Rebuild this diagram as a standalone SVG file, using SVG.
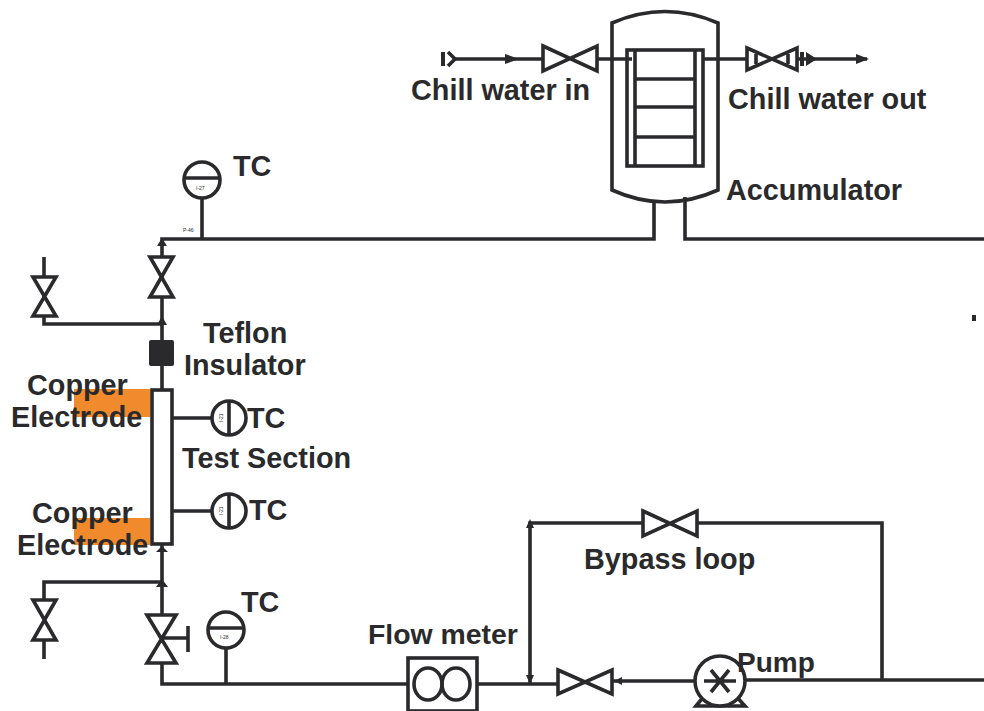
<svg xmlns="http://www.w3.org/2000/svg" width="984" height="711" viewBox="0 0 984 711">
<style>
.l{fill:none;stroke:#2a2a2c;stroke-width:3.6;stroke-linejoin:miter}
.t{fill:#2a2a2c;stroke:none}
.v{fill:#fff;stroke:#2a2a2c;stroke-width:3.6;stroke-linejoin:miter}
text{font-family:"Liberation Sans",Arial,sans-serif;font-weight:700;fill:#2a2a2c;font-size:28.8px}
.s{font-size:5px;font-weight:400}
</style>
<rect width="984" height="711" fill="#fff"/>
<g id="electrodes">
<rect x="74" y="389" width="76" height="28" fill="#f08a2c"/>
<rect x="74" y="518" width="76" height="27" fill="#f08a2c"/>
</g>
<g id="connectors">
<path class="l" d="M453 59H545M595 59H632M703 59H867"/>
<path class="l" d="M654 202V239H162V390"/>
<path class="l" d="M685 197V239H984"/>
<path class="l" d="M44 257V316V324H162"/>
<path class="l" d="M202 198V239"/>
<path class="l" d="M172 418H212M172 511H212"/>
<path class="l" d="M162 544V684H408"/>
<path class="l" d="M44 640V659M44 600V582H162"/>
<path class="l" d="M226 648V684"/>
<path class="l" d="M477 684H558M612 681H695M745 680H984"/>
<path class="l" d="M530 684V523H645M695 523H882V680"/>
<path class="t" d="M505 54L519 59L505 64Z"/>
<path class="t" d="M856 54L869 59L856 64Z"/>
<path class="t" d="M162 238L167 246H157Z"/>
<path class="t" d="M162 316L167 325H157Z"/>
<path class="t" d="M162 546L168 552H156Z"/>
<path class="t" d="M162 579L168 587H156Z"/>
<path class="t" d="M530 519L534 528H526Z"/>
<path class="t" d="M530 684L526 675H534Z"/>
<path class="t" d="M614 681L622 677V685Z"/>
</g>
<g id="inlet-cap">
<rect class="t" x="441" y="52" width="4" height="14"/>
<path class="l" d="M448 52L455 59L448 66"/>
</g>
<g id="accumulator">
<path class="l" d="M612 23Q665 0 718 23V190Q665 214 612 190Z"/>
<rect class="l" x="627" y="50" width="76" height="116"/>
<path class="l" d="M635 50V166M695 50V166M635 79H695M635 107H695M635 137H695"/>
</g>
<g id="valve-in"><path class="v" d="M543 46L597 71V46L543 71Z"/></g>
<g id="valve-out"><path class="v" d="M747 48L797 70V48L747 70Z"/>
<path class="l" d="M756 54V64M788 54V64"/>
<path class="t" d="M800 52H804V66H800ZM806 52L817 59L806 66Z"/></g>
<g id="valve-top"><path class="v" d="M150 257H173L150 297H173Z"/></g>
<g id="valve-upper-left"><path class="v" d="M33 277H56L33 316H56Z"/></g>
<g id="insulator"><rect class="t" x="149" y="340" width="25" height="26" rx="2"/></g>
<g id="test-section"><rect class="v" x="152" y="390" width="20" height="154"/></g>
<g id="valve-lower-left"><path class="v" d="M33 600H56L33 640H56Z"/></g>
<g id="valve-handled"><path class="v" d="M147 615H176L147 663H176Z"/>
<path class="l" d="M162 638H187M188 626V652"/></g>
<g id="tc-top"><circle class="v" cx="202" cy="180" r="18"/><path class="l" d="M184 178H220"/><text class="s" x="196" y="190">I-27</text></g>
<text class="s" x="183" y="232">P-46</text>
<g id="tc-upper"><circle class="v" cx="229" cy="418" r="17"/><path class="l" d="M229 401V435"/><text class="s" transform="translate(223 422) rotate(-90)">I-21</text></g>
<g id="tc-lower"><circle class="v" cx="229" cy="511" r="17"/><path class="l" d="M229 494V528"/><text class="s" transform="translate(223 515) rotate(-90)">I-21</text></g>
<g id="tc-bottom"><circle class="v" cx="226" cy="630" r="18"/><path class="l" d="M208 628H244"/><text class="s" x="220" y="639">I-28</text></g>
<g id="flow-meter"><rect class="v" x="408" y="658" width="69" height="53"/><ellipse class="l" cx="428" cy="684" rx="14" ry="16"/><ellipse class="l" cx="456" cy="684" rx="14" ry="16"/></g>
<g id="valve-bypass"><path class="v" d="M643 511L697 536V511L643 536Z"/></g>
<g id="valve-pump"><path class="v" d="M558 670L612 694V670L558 694Z"/></g>
<g id="pump"><path class="v" d="M696 706L705 695H735L745 706Z"/><circle class="v" cx="720" cy="681" r="25"/>
<path class="l" d="M704 681H736M711 670L729 692M729 670L711 692"/></g>
<rect class="t" x="972" y="315" width="4" height="6"/>
<g id="labels">
<text x="411" y="100">Chill water in</text>
<text x="728" y="109">Chill water out</text>
<text x="726" y="200">Accumulator</text>
<text x="233" y="176">TC</text>
<text x="203" y="343">Teflon</text>
<text x="184" y="375">Insulator</text>
<text x="27" y="395">Copper</text>
<text x="11" y="427">Electrode</text>
<text x="247" y="428">TC</text>
<text x="182" y="468">Test Section</text>
<text x="249" y="520">TC</text>
<text x="32" y="523">Copper</text>
<text x="17" y="555">Electrode</text>
<text x="241" y="612">TC</text>
<text x="368" y="644" style="font-size:28.4px">Flow meter</text>
<text x="584" y="569">Bypass loop</text>
<text x="737" y="672" style="font-size:28px">Pump</text>
</g>
</svg>
